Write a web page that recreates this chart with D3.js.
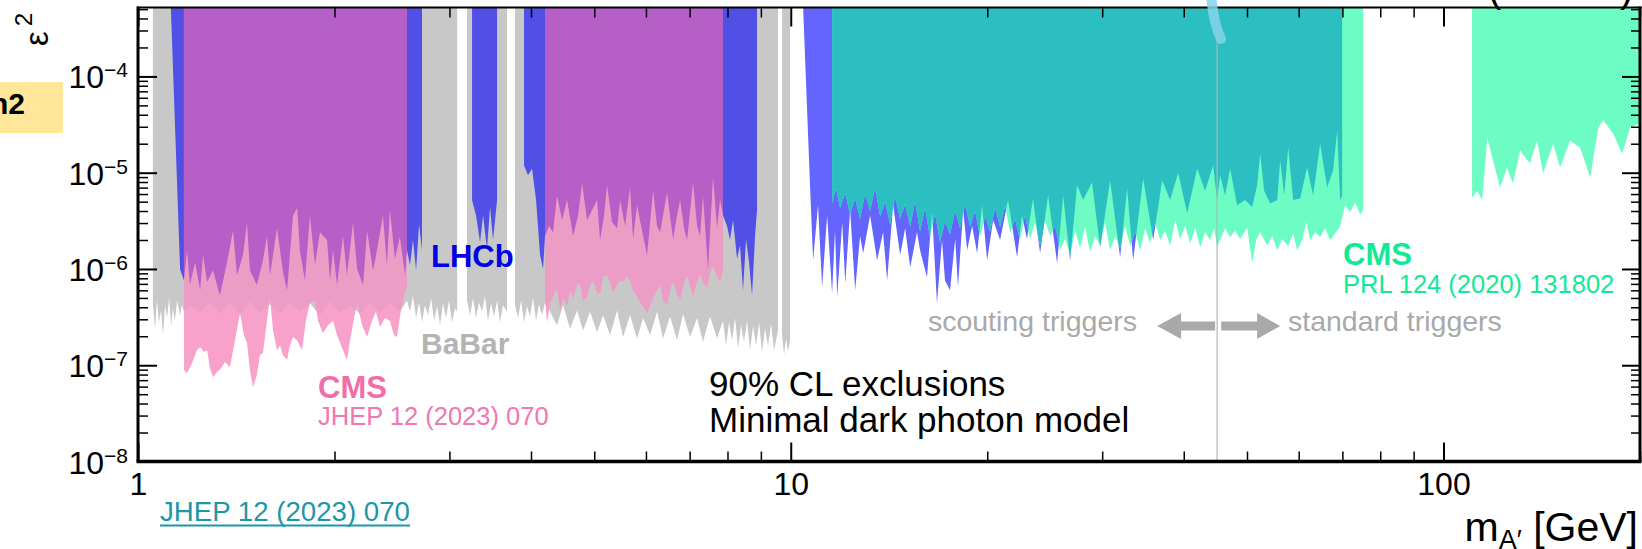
<!DOCTYPE html>
<html>
<head>
<meta charset="utf-8">
<script src="https://cdn.jsdelivr.net/npm/d3@7"></script>
<style>
  html, body { margin: 0; padding: 0; background: #fff; }
  svg { display: block; font-family: "Liberation Sans", Arial, Helvetica, sans-serif; }
</style>
</head>
<body>
<svg id="chart" width="1642" height="549"></svg>
<script>
// ---- data: [mass in GeV, epsilon^2 limit], region excluded above the curve ----
const babar1 = [[1.054,4.2e-7],[1.062,2.4e-7],[1.069,4.7e-7],[1.077,2.8e-7],[1.085,3.7e-7],[1.092,2.05e-7],[1.100,4.2e-7],[1.108,3.1e-7],[1.116,5.0e-7],[1.124,2.55e-7],[1.131,3.9e-7],[1.139,2.9e-7],[1.148,4.7e-7],[1.160,3.3e-7],[1.168,4.2e-7],[1.176,3.6e-7],[1.201,4.2e-7],[1.245,3.5e-7],[1.289,4.5e-7],[1.335,3.4e-7],[1.383,4.4e-7],[1.433,3.3e-7],[1.484,4.6e-7],[1.537,3.5e-7],[1.593,4.3e-7],[1.650,3.4e-7],[1.709,4.5e-7],[1.770,3.6e-7],[1.834,4.4e-7],[1.900,3.3e-7],[1.969,4.6e-7],[2.039,3.5e-7],[2.113,4.2e-7],[2.189,3.4e-7],[2.267,4.5e-7],[2.348,3.5e-7],[2.432,4.4e-7],[2.519,3.6e-7],[2.583,4.7e-7],[2.610,3.6e-7],[2.638,5.2e-7],[2.667,3.1e-7],[2.695,4.5e-7],[2.723,2.8e-7],[2.752,4.2e-7],[2.782,3.3e-7],[2.812,5.0e-7],[2.842,2.9e-7],[2.872,4.1e-7],[2.902,2.6e-7],[2.933,4.4e-7],[2.964,3.1e-7],[2.995,4.7e-7],[3.027,2.8e-7],[3.060,3.9e-7],[3.083,3.6e-7]];
const babar2 = [[3.192,4.7e-7],[3.226,3.3e-7],[3.261,5.0e-7],[3.295,3.1e-7],[3.330,4.5e-7],[3.365,3.6e-7],[3.401,5.2e-7],[3.437,2.9e-7],[3.474,4.4e-7],[3.511,3.2e-7],[3.549,4.7e-7],[3.586,2.8e-7],[3.624,4.2e-7],[3.676,3.6e-7]];
const babar3 = [[3.781,4.2e-7],[3.821,3.1e-7],[3.862,4.7e-7],[3.903,2.8e-7],[3.944,4.1e-7],[3.986,3.2e-7],[4.029,5.0e-7],[4.072,2.9e-7],[4.115,4.3e-7],[4.159,3.3e-7],[4.203,4.5e-7],[4.278,3.6e-7],[4.385,2.6e-7],[4.479,4.2e-7],[4.591,2.4e-7],[4.706,3.7e-7],[4.807,2.3e-7],[4.927,3.6e-7],[5.050,2.2e-7],[5.158,3.3e-7],[5.287,2.05e-7],[5.419,3.7e-7],[5.535,1.96e-7],[5.673,3.3e-7],[5.815,1.9e-7],[5.940,3.1e-7],[6.088,2.05e-7],[6.240,3.6e-7],[6.374,1.9e-7],[6.533,3.2e-7],[6.697,1.82e-7],[6.840,3.4e-7],[7.010,1.96e-7],[7.185,3.1e-7],[7.339,1.75e-7],[7.522,3.2e-7],[7.710,1.9e-7],[7.875,2.9e-7],[7.959,1.6e-7],[8.044,2.8e-7],[8.129,1.82e-7],[8.216,3.1e-7],[8.303,1.5e-7],[8.391,2.6e-7],[8.481,1.75e-7],[8.571,2.9e-7],[8.662,1.43e-7],[8.755,2.55e-7],[8.849,1.6e-7],[8.943,2.8e-7],[9.037,1.37e-7],[9.133,2.4e-7],[9.230,1.58e-7],[9.329,2.7e-7],[9.428,1.43e-7],[9.563,2.3e-7]];
const babar4 = [[9.698,2.05e-7],[9.767,1.27e-7],[9.836,1.9e-7],[9.905,1.37e-7],[9.975,1.82e-7]];

const lhcbLow1 = [[1.119,1e-3],[1.160,1.0e-6],[1.176,7.6e-7],[1.189,1.56e-6],[1.201,6.8e-7],[1.223,1.17e-6],[1.245,6.0e-7],[1.258,1.4e-6],[1.276,7.3e-7],[1.303,9.7e-7],[1.335,5.3e-7],[1.369,1.17e-6],[1.398,2.5e-6],[1.418,8.6e-7],[1.448,1.4e-6],[1.469,3.0e-6],[1.484,9.7e-7],[1.521,6.8e-7],[1.554,1.23e-6],[1.576,2.2e-6],[1.593,8.6e-7],[1.633,2.65e-6],[1.668,9.2e-7],[1.692,6.0e-7],[1.728,3.6e-6],[1.753,4.3e-6],[1.770,1.56e-6],[1.802,7.6e-7],[1.834,3.6e-6],[1.867,1.1e-6],[1.900,2.4e-6],[1.948,2.0e-6],[1.969,7.6e-7],[1.990,1.56e-6],[2.018,6.8e-7],[2.061,2.2e-6],[2.090,8.6e-7],[2.135,3.0e-6],[2.166,1.0e-6],[2.212,6.8e-7],[2.244,2.5e-6],[2.291,9.7e-7],[2.323,1.56e-6],[2.373,3.6e-6],[2.406,1.1e-6],[2.432,4.1e-6],[2.475,1.28e-6],[2.519,2.15e-6],[2.565,8.6e-7],[2.583,1.56e-6],[2.610,1.1e-6],[2.638,2.0e-6],[2.667,9.7e-7],[2.695,2.9e-6],[2.723,1.56e-6]];
const lhcbLow2 = [[3.249,5.2e-6],[3.295,3.6e-6],[3.342,1.9e-6],[3.378,3.6e-6],[3.425,1.6e-6],[3.462,4.4e-6],[3.499,2.0e-6],[3.549,5.2e-6]];
const lhcbLow3 = [[3.903,1.19e-5],[3.958,9.4e-6],[4.015,1.1e-5],[4.072,5.2e-6],[4.130,1.4e-6],[4.174,1.0e-6],[4.203,2.2e-6],[4.263,2.8e-6],[4.323,2.4e-6],[4.385,5.8e-6],[4.464,3.2e-6],[4.543,5.2e-6],[4.640,2.2e-6],[4.723,3.6e-6],[4.790,7.7e-6],[4.875,3.2e-6],[4.962,4.1e-6],[5.050,5.2e-6],[5.104,2.0e-6],[5.176,3.6e-6],[5.231,7.4e-6],[5.324,3.05e-6],[5.419,2.65e-6],[5.477,5.2e-6],[5.574,2.8e-6],[5.673,7.0e-6],[5.733,2.05e-6],[5.815,4.6e-6],[5.919,2.5e-6],[6.024,1.4e-6],[6.153,6.5e-6],[6.240,2.8e-6],[6.307,2.4e-6],[6.396,4.1e-6],[6.464,6.2e-6],[6.603,2.05e-6],[6.697,3.6e-6],[6.768,5.2e-6],[6.864,2.65e-6],[6.937,2.0e-6],[7.085,7.9e-6],[7.185,2.8e-6],[7.262,2.2e-6],[7.339,5.8e-6],[7.469,9.7e-7],[7.602,9.1e-6],[7.710,2.65e-6],[7.792,5.2e-6],[7.875,3.6e-6],[7.987,2.8e-6],[8.072,2.0e-6],[8.158,3.2e-6],[8.274,1.28e-6],[8.362,1.75e-6],[8.451,6.0e-7],[8.541,2.05e-6],[8.632,1.17e-6],[8.724,5.3e-7],[8.817,2.2e-6],[8.879,4.1e-6]];
const lhcbHigh = [[10.407,1e-3],[10.70,7.7e-6],[10.82,1.23e-6],[11.01,4.6e-6],[11.17,6.5e-7],[11.37,3.6e-6],[11.57,5.6e-7],[11.69,2.5e-6],[11.78,5.1e-7],[11.99,3.05e-6],[12.12,7.1e-7],[12.33,4.1e-6],[12.55,6.0e-7],[12.77,2.2e-6],[12.91,1.46e-6],[13.23,3.6e-6],[13.56,1.23e-6],[13.85,2.4e-6],[14.05,7.6e-7],[14.35,4.6e-6],[14.71,1.4e-6],[14.97,2.65e-6],[15.24,1.04e-6],[15.61,2.4e-6],[15.78,1.56e-6],[16.17,8.2e-7],[16.46,3.9e-6],[16.75,4.4e-7],[17.05,2.0e-6],[17.23,7.6e-7],[17.54,6.0e-7],[17.86,2.05e-6],[18.04,6.5e-7],[18.37,4.1e-6],[18.63,1.56e-6],[18.96,2.8e-6],[19.30,1.46e-6],[19.64,4.6e-6],[19.99,1.23e-6],[20.42,3.2e-6],[20.93,2.0e-6],[21.52,5.2e-6],[22.22,1.32e-6],[22.61,3.6e-6],[23.01,2.05e-6],[23.50,5.4e-6],[24.10,1.46e-6],[24.79,5.8e-6],[25.59,1.15e-6],[26.14,5.8e-6],[26.79,1.23e-6],[27.46,7.4e-6],[28.05,5.2e-6],[28.94,7.9e-6],[29.78,1.68e-6],[30.85,8.3e-6],[31.96,1.32e-6],[32.76,6.9e-6],[33.46,1.23e-6],[34.66,8.7e-6],[35.91,2.0e-6],[37.07,8.3e-6],[38.13,5.2e-6],[39.22,1.0e-5],[40.49,3.8e-6],[41.94,1.1e-5],[43.14,6.5e-6],[44.36,1.19e-5],[45.00,5.2e-6],[45.48,9.4e-6],[46.29,5.8e-6],[47.11,1.1e-5],[48.29,4.6e-6],[49.67,5.2e-6],[50.92,4.4e-6],[51.82,7.4e-6],[52.38,1.58e-5],[53.12,6.5e-6],[54.26,4.8e-6],[55.62,5.2e-6],[56.21,1.34e-5],[57.01,5.8e-6],[57.82,1.82e-5],[58.85,5.2e-6],[60.31,5.4e-6],[61.81,1.13e-5],[63.13,5.8e-6],[64.72,2.0e-5],[66.33,7.0e-6],[67.75,1.06e-5],[68.72,2.75e-5],[69.45,5.2e-6],[69.94,5.8e-6]];

const cms23a = [[1.176,8.9e-8],[1.189,8.3e-8],[1.210,1.05e-7],[1.231,1.43e-7],[1.245,1.54e-7],[1.262,1.37e-7],[1.276,1.43e-7],[1.289,9.3e-8],[1.303,7.5e-8],[1.321,8.5e-8],[1.335,8.9e-8],[1.359,1.08e-7],[1.383,9.6e-8],[1.408,1.82e-7],[1.433,3.5e-7],[1.453,2.05e-7],[1.469,1.7e-7],[1.484,8.9e-8],[1.500,5.9e-8],[1.521,7.9e-8],[1.537,1.27e-7],[1.554,1.34e-7],[1.576,2.9e-7],[1.593,5.1e-7],[1.610,2.3e-7],[1.633,1.43e-7],[1.650,1.6e-7],[1.668,1.27e-7],[1.692,1.13e-7],[1.709,1.6e-7],[1.728,1.96e-7],[1.753,1.82e-7],[1.783,1.43e-7],[1.808,2.9e-7],[1.834,4.4e-7],[1.867,4.7e-7],[1.887,2.9e-7],[1.920,2.15e-7],[1.955,2.6e-7],[1.990,2.9e-7],[2.018,2.05e-7],[2.061,1.43e-7],[2.090,1.13e-7],[2.113,1.82e-7],[2.143,3.1e-7],[2.166,4.4e-7],[2.204,2.6e-7],[2.244,1.96e-7],[2.283,2.9e-7],[2.315,3.6e-7],[2.348,2.5e-7],[2.389,3.1e-7],[2.432,2.9e-7],[2.467,2.05e-7],[2.493,1.96e-7],[2.528,3.7e-7],[2.555,5.3e-7],[2.583,6.5e-7]];
const cms23b = [[4.203,4.7e-7],[4.233,2.8e-7],[4.278,4.4e-7],[4.323,5.2e-7],[4.385,6.3e-7],[4.432,3.7e-7],[4.479,5.0e-7],[4.543,4.2e-7],[4.591,6.0e-7],[4.640,5.0e-7],[4.706,6.8e-7],[4.756,7.1e-7],[4.807,4.7e-7],[4.875,5.2e-7],[4.927,6.8e-7],[4.979,7.6e-7],[5.050,5.7e-7],[5.104,5.6e-7],[5.158,8.4e-7],[5.231,8.6e-7],[5.287,7.3e-7],[5.343,5.7e-7],[5.419,6.9e-7],[5.477,7.6e-7],[5.535,7.3e-7],[5.613,8.4e-7],[5.673,7.6e-7],[5.733,6.0e-7],[5.815,5.2e-7],[5.877,4.5e-7],[5.940,4.1e-7],[6.024,3.5e-7],[6.088,4.2e-7],[6.153,5.0e-7],[6.240,6.0e-7],[6.307,6.8e-7],[6.374,4.7e-7],[6.464,4.2e-7],[6.533,6.0e-7],[6.603,7.6e-7],[6.697,5.5e-7],[6.768,4.7e-7],[6.840,6.6e-7],[6.937,8.6e-7],[7.010,6.8e-7],[7.085,5.2e-7],[7.185,7.3e-7],[7.262,8.8e-7],[7.339,7.3e-7],[7.443,6.3e-7],[7.522,9.2e-7],[7.602,1.1e-6],[7.710,8.4e-7],[7.792,7.3e-7],[7.875,9.7e-7]];

const cms20a = [[11.57,4.8e-6],[11.73,6.9e-6],[11.90,4.3e-6],[12.12,6.1e-6],[12.33,3.7e-6],[12.55,5.4e-6],[12.77,3.3e-6],[13.00,6.0e-6],[13.23,4.0e-6],[13.46,6.9e-6],[13.71,3.5e-6],[13.95,5.0e-6],[14.20,2.9e-6],[14.45,5.6e-6],[14.71,3.3e-6],[14.97,4.7e-6],[15.24,2.75e-6],[15.50,5.0e-6],[15.78,2.45e-6],[16.06,4.3e-6],[16.34,2.15e-6],[16.64,3.7e-6],[16.93,1.9e-6],[17.23,3.1e-6],[17.54,2.3e-6],[17.86,4.0e-6],[18.17,2.65e-6],[18.50,4.7e-6],[18.83,2.75e-6],[19.16,4.0e-6],[19.50,2.15e-6],[19.85,3.5e-6],[20.20,2.45e-6],[20.56,4.3e-6],[20.93,2.75e-6],[21.30,4.5e-6],[21.68,2.35e-6],[22.06,3.3e-6],[22.45,2.0e-6],[22.85,3.6e-6],[23.26,2.05e-6],[23.67,3.05e-6],[24.10,1.75e-6],[24.52,3.2e-6],[24.96,2.2e-6],[25.41,2.8e-6],[25.86,1.56e-6],[26.32,2.05e-6],[26.79,1.4e-6],[27.27,2.5e-6],[27.75,1.64e-6],[28.24,2.75e-6],[28.74,1.5e-6],[29.26,2.2e-6],[29.78,1.75e-6],[30.31,3.05e-6],[30.85,1.56e-6],[31.40,2.2e-6],[31.96,1.64e-6],[32.53,2.8e-6],[33.11,1.75e-6],[33.70,2.4e-6],[34.30,1.56e-6],[34.91,2.65e-6],[35.53,1.85e-6],[36.16,3.05e-6],[36.81,2.0e-6],[37.46,2.5e-6],[38.13,1.75e-6],[38.81,3.2e-6],[39.50,2.05e-6],[40.20,2.8e-6],[40.92,1.85e-6],[41.65,2.65e-6],[42.39,1.68e-6],[43.14,2.4e-6],[43.91,2.0e-6],[44.52,2.65e-6],[45.00,1.68e-6],[45.48,2.0e-6],[46.29,2.65e-6],[47.11,2.15e-6],[47.95,2.5e-6],[48.80,2.05e-6],[50.03,2.7e-6],[50.92,1.15e-6],[51.64,2.0e-6],[52.38,2.4e-6],[53.69,1.75e-6],[54.65,2.2e-6],[55.62,1.56e-6],[56.61,2.05e-6],[57.82,1.72e-6],[58.85,2.35e-6],[59.68,1.56e-6],[60.74,2.0e-6],[61.59,3.05e-6],[62.48,2.0e-6],[63.59,2.4e-6],[64.72,2.15e-6],[65.87,2.65e-6],[67.04,2.0e-6],[68.24,2.35e-6],[69.45,2.8e-6],[70.69,4.6e-6],[71.95,3.9e-6],[73.22,4.9e-6],[74.53,3.7e-6],[75.32,4.1e-6]];
const cms20b = [[110.6,5.5e-6],[112.6,6.5e-6],[114.6,5.2e-6],[116.7,2.3e-5],[119.1,1.34e-5],[122.1,7.0e-6],[125.1,1.13e-5],[127.8,7.7e-6],[131.0,1.7e-5],[135.7,1.25e-5],[139.1,2.16e-5],[142.1,9.8e-6],[147.2,2.0e-5],[150.9,1.13e-5],[156.3,2.16e-5],[161.9,1.82e-5],[167.8,8.9e-6],[172.6,2.95e-5],[175.6,3.5e-5],[181.9,2.55e-5],[187.8,1.58e-5],[193.2,2.95e-5],[200.0,3.25e-5]];

const triggerSplit = 45;            // GeV, scouting / standard trigger boundary
const xTickValues = [1, 10, 100];
const xTickLabels = ["1", "10", "100"];
const yTickExponents = [-8, -7, -6, -5, -4];

const babarSegs = [babar1, babar2, babar3, babar4];
const lhcbLowSegs = [lhcbLow1, lhcbLow2, lhcbLow3];
const lhcbHighSegs = [lhcbHigh];
const cms23Segs = [cms23a, cms23b];
const cms20Segs = [cms20a, cms20b];

const COL = {
  babar: "#c8c8c8", lhcb: "#5050e6", lhcbHi: "#6464ff",
  cms23: "#f8a2cb", cms23OnBabar: "#ec9dc6", cms23OnLhcb: "#b65fc6",
  cms20: "#6cfcc4", cms20OnLhcb: "#2bbfc1"
};

// ---- scales ----
const plot = { left: 138, right: 1640, top: 7.5, bottom: 461.5 };
const x = d3.scaleLog().domain([1, 200]).range([plot.left, plot.right]);
const y = d3.scaleLog().domain([1e-8, 5.2e-4]).range([plot.bottom, plot.top]);
const CEIL = 1e-3;   // exclusion bands run up past the frame

const area = d3.area()
  .x(d => x(d[0]))
  .y0(y(CEIL))
  .y1(d => y(d[1]));

const svg = d3.select("#chart");
const defs = svg.append("defs");

defs.append("clipPath").attr("id", "frameClip").append("rect")
  .attr("x", plot.left).attr("y", plot.top)
  .attr("width", plot.right - plot.left).attr("height", plot.bottom - plot.top);

function clipFrom(id, segs) {
  defs.append("clipPath").attr("id", id)
    .selectAll("path").data(segs).join("path").attr("d", area);
}
clipFrom("babarClip", babarSegs);
clipFrom("lhcbClip", lhcbLowSegs.concat(lhcbHighSegs));

const layer = svg.append("g").attr("clip-path", "url(#frameClip)");

function fill(g, segs, color) {
  g.append("g").selectAll("path").data(segs).join("path")
    .attr("d", area).attr("fill", color);
}
fill(layer, babarSegs, COL.babar);
fill(layer, lhcbLowSegs, COL.lhcb);
fill(layer, lhcbHighSegs, COL.lhcbHi);
fill(layer, cms23Segs, COL.cms23);
// overlaps get their own shade
fill(layer.append("g").attr("clip-path", "url(#babarClip)"), cms23Segs, COL.cms23OnBabar);
fill(layer.append("g").attr("clip-path", "url(#lhcbClip)"), cms23Segs, COL.cms23OnLhcb);
fill(layer, cms20Segs, COL.cms20);
fill(layer.append("g").attr("clip-path", "url(#lhcbClip)"), cms20Segs, COL.cms20OnLhcb);

// trigger boundary
svg.append("line")
  .attr("x1", x(triggerSplit)).attr("x2", x(triggerSplit))
  .attr("y1", plot.top).attr("y2", plot.bottom)
  .attr("stroke", "#b4b4b4").attr("stroke-width", 1.2);

// ---- ticks (ROOT style, inward on all four sides) ----
const xMinor = [];
xTickValues.forEach(d => { for (let k = 2; k <= 9; k++) if (d * k <= 200) xMinor.push(d * k); });
const yMinor = [];
yTickExponents.forEach(e => { for (let k = 2; k <= 9; k++) if (k * 10 ** e <= 5.2e-4) yMinor.push(k * 10 ** e); });
const yMajor = yTickExponents.map(e => 10 ** e);

function ticks(axis, tr, values, size, w) {
  svg.append("g").attr("transform", tr)
    .call(axis.tickValues(values).tickSize(size).tickFormat(""))
    .call(g => g.select(".domain").remove())
    .selectAll("line").attr("stroke", "#000").attr("stroke-width", w);
}
ticks(d3.axisBottom(x), `translate(0,${plot.bottom})`, xMinor, -10, 1.5);
ticks(d3.axisTop(x), `translate(0,${plot.top})`, xMinor, -10, 1.5);
ticks(d3.axisTop(x), `translate(0,${plot.top})`, xTickValues, -19, 2);
ticks(d3.axisLeft(y), `translate(${plot.left},0)`, yMinor, -10, 1.5);
ticks(d3.axisLeft(y), `translate(${plot.left},0)`, yMajor, -19, 2);
ticks(d3.axisRight(y), `translate(${plot.right},0)`, yMinor, -9, 1.5);
ticks(d3.axisRight(y), `translate(${plot.right},0)`, yMajor, -18, 2);

// bottom axis with labels
svg.append("g").attr("transform", `translate(0,${plot.bottom})`)
  .call(d3.axisBottom(x).tickValues(xTickValues).tickSize(-19).tickPadding(11)
    .tickFormat((d, i) => xTickLabels[i]))
  .call(g => g.select(".domain").remove())
  .call(g => g.selectAll("line").attr("stroke", "#000").attr("stroke-width", 2))
  .call(g => g.selectAll("text").attr("fill", "#000").attr("font-size", 32)
    .attr("font-family", "Liberation Sans, Arial, sans-serif"));

// frame
const frame = svg.append("g").attr("stroke", "#000").attr("fill", "none");
frame.append("line").attr("x1", plot.left - 1).attr("x2", plot.right + 1.5).attr("y1", plot.top).attr("y2", plot.top).attr("stroke-width", 2);
frame.append("line").attr("x1", plot.left - 1.5).attr("x2", plot.right + 1.5).attr("y1", plot.bottom).attr("y2", plot.bottom).attr("stroke-width", 3.5);
frame.append("line").attr("x1", plot.left).attr("x2", plot.left).attr("y1", plot.top - 1).attr("y2", plot.bottom).attr("stroke-width", 3);
frame.append("line").attr("x1", plot.right).attr("x2", plot.right).attr("y1", plot.top - 1).attr("y2", plot.bottom).attr("stroke-width", 3);

// y tick labels 10^n
yTickExponents.forEach(e => {
  const t = svg.append("text").attr("x", 128).attr("y", y(10 ** e) + 12)
    .attr("text-anchor", "end").attr("font-size", 32).attr("fill", "#000");
  t.append("tspan").text("10");
  t.append("tspan").attr("font-size", 21).attr("dy", -11).text("\u2212" + Math.abs(e));
});

// axis titles
const xt = svg.append("text").attr("x", 1638).attr("y", 541)
  .attr("text-anchor", "end").attr("font-size", 41).attr("fill", "#000");
xt.append("tspan").text("m");
xt.append("tspan").attr("font-size", 27).attr("dy", 8).text("A\u2032");
xt.append("tspan").attr("dy", -8).text(" [GeV]");

const yt = svg.append("text").attr("transform", "translate(48,13) rotate(-90)")
  .attr("text-anchor", "end").attr("font-size", 33).attr("fill", "#000");
yt.append("tspan").text("\u03b5");
yt.append("tspan").attr("font-size", 24).attr("dx", 5).attr("dy", -16).text("2");

// ---- annotations ----
function label(txt, px, py, size, color, bold, anchor) {
  svg.append("text").attr("x", px).attr("y", py).attr("font-size", size)
    .attr("fill", color).attr("font-weight", bold ? "bold" : "normal")
    .attr("text-anchor", anchor || "start").text(txt);
}
label("LHCb", 431, 267, 31, "#0000e6", true);
label("BaBar", 421, 354, 30, "#b4b4b4", true);
label("CMS", 318, 398, 31, "#f06ea9", true);
label("JHEP 12 (2023) 070", 318, 425, 25.5, "#f077b0", false);
label("CMS", 1343, 265, 31, "#12e896", true);
label("PRL 124 (2020) 131802", 1343, 293, 25.5, "#12e896", false);
label("90% CL exclusions", 709, 396, 35, "#000", false);
label("Minimal dark photon model", 709, 432, 35, "#000", false);
label("scouting triggers", 1137, 331, 28.5, "#a9a9a9", false, "end");
label("standard triggers", 1288, 331, 28.5, "#a9a9a9", false);

// trigger arrows
const xs = x(triggerSplit), ay = 326;
svg.append("path").attr("fill", "#a9a9a9")
  .attr("d", `M${xs - 60},${ay} L${xs - 36},${ay - 13} L${xs - 36},${ay - 4.5} L${xs - 2},${ay - 4.5} L${xs - 2},${ay + 4.5} L${xs - 36},${ay + 4.5} L${xs - 36},${ay + 13} Z`);
svg.append("path").attr("fill", "#a9a9a9")
  .attr("d", `M${xs + 63},${ay} L${xs + 40},${ay - 13} L${xs + 40},${ay - 4.5} L${xs + 4},${ay - 4.5} L${xs + 4},${ay + 4.5} L${xs + 40},${ay + 4.5} L${xs + 40},${ay + 13} Z`);

// ---- slide leftovers around the figure ----
svg.append("rect").attr("x", 0).attr("y", 82).attr("width", 63).attr("height", 51).attr("fill", "#ffe699");
label("n2", 25, 114, 30, "#000", true, "end");

svg.append("text").attr("x", 160).attr("y", 521).attr("font-size", 27).attr("fill", "#1b97a7")
  .attr("textLength", 250).attr("lengthAdjust", "spacingAndGlyphs").text("JHEP 12 (2023) 070");
svg.append("line").attr("x1", 160).attr("x2", 410).attr("y1", 525.5).attr("y2", 525.5)
  .attr("stroke", "#1b97a7").attr("stroke-width", 2);

svg.append("path").attr("d", "M1211,-6 Q1213,22 1221,39")
  .attr("fill", "none").attr("stroke", "#84d3ea").attr("stroke-opacity", 0.85)
  .attr("stroke-width", 10).attr("stroke-linecap", "round");

label("(", 1488, 2, 40, "#000", false);
label(")", 1620, 2, 40, "#000", false);
</script>
</body>
</html>
